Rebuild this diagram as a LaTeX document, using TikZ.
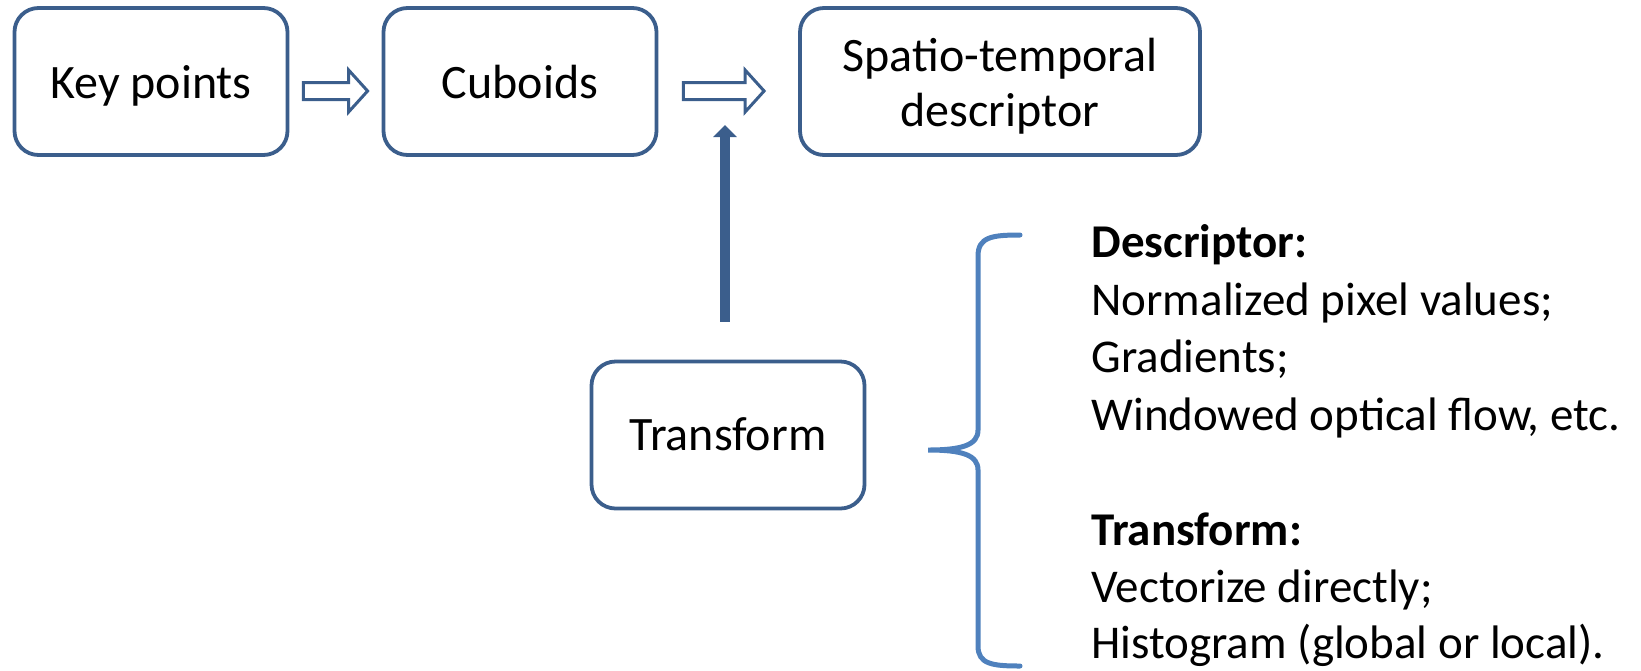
\documentclass[tikz,border=0pt]{standalone}
\usepackage{fontspec}
\setmainfont{Carlito}
\usetikzlibrary{arrows.meta,calc}
\definecolor{boxblue}{HTML}{3B5E8C}
\definecolor{bracecol}{HTML}{4F81BD}
\tikzset{
  stepbox/.style={draw=boxblue, line width=1.9pt, rounded corners=12pt, fill=white,
    minimum width=136.5pt, minimum height=73.5pt, inner sep=0pt,
    font=\fontsize{24}{27.5}\selectfont},
  hollow/.style={draw=boxblue, line width=1.5pt, fill=white, line join=miter},
  vertarrow/.style={draw=boxblue, line width=5pt, -{Triangle[length=6pt,width=11.5pt]}},
  bracestyle/.style={draw=bracecol, line width=2.5pt, line cap=round},
  txt/.style={anchor=base west, inner sep=0pt, font=\fontsize{23.5}{28.75}\selectfont}
}
\newcommand\hollowarrow[2]{%
  \draw[hollow] let \p1=(#1), \p2=(#2) in
    (\x1,\y1+4.25pt) -- (\x2-9.5pt,\y1+4.25pt) -- (\x2-9.5pt,\y1+10.5pt) -- (\x2,\y1)
    -- (\x2-9.5pt,\y1-10.5pt) -- (\x2-9.5pt,\y1-4.25pt) -- (\x1,\y1-4.25pt) -- cycle;}
\newcommand\boxtext[2]{\raisebox{-#1}[0pt][0pt]{#2}}
\begin{document}
\begin{tikzpicture}[x=0.5pt,y=-0.5pt]
\useasboundingbox (0,0) rectangle (1641,670);
\node[stepbox] (kp) at (151,81.5) {\boxtext{8.25pt}{Key points}};
\node[stepbox] (cb) at (520,81.5) {\boxtext{8.25pt}{Cuboids}};
\node[stepbox, minimum width=200pt] (sp) at (1000,81.5)
  {\boxtext{22.5pt}{\begin{tabular}[b]{@{}c@{}}Spatio-temporal\\descriptor\end{tabular}}};
\node[stepbox] (tr) at (728,435) {\boxtext{7.75pt}{Transform}};

\coordinate (a1s) at ([shift={(14,9.5)}]kp.east);
\coordinate (a1e) at ([shift={(-14,9.5)}]cb.west);
\coordinate (a2s) at ([shift={(25,9.5)}]cb.east);
\coordinate (a2e) at ([shift={(-34,9.5)}]sp.west);
\hollowarrow{a1s}{a1e}
\hollowarrow{a2s}{a2e}

\coordinate (vs) at ([shift={(-3,-38)}]tr.north);
\coordinate (vt) at (725,125);
\draw[vertarrow] (vs) -- (vt);

\draw[bracestyle] (1020,235) .. controls (992,235) and (978,237) .. (978,256)
  -- (978,430) .. controls (978,445) and (962,450) .. (928,450)
  .. controls (962,450) and (978,455) .. (978,470)
  -- (978,646) .. controls (978,664) and (992,666) .. (1020,666);

\node[txt] (d0) at (1091,257) {\textbf{Descriptor:}};
\node[txt] (d1) at (1091,315) {Normalized pixel values;};
\node[txt] (d2) at (1091,372) {Gradients;};
\node[txt] (d3) at (1091,430) {Windowed optical flow, etc.};
\node[txt] (t0) at (1091,545) {\textbf{Transform:}};
\node[txt] (t1) at (1091,602) {Vectorize directly;};
\node[txt] (t2) at (1091,658) {Histogram (global or local).};
\end{tikzpicture}
\end{document}
